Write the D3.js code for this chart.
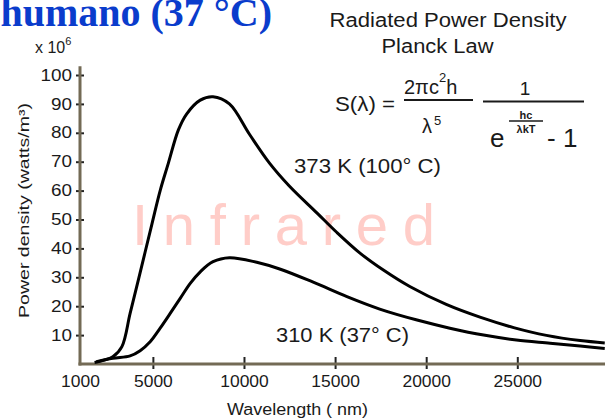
<!DOCTYPE html>
<html>
<head>
<meta charset="utf-8">
<script src="https://cdn.jsdelivr.net/npm/d3@7"></script>
<style>
  html, body { margin: 0; padding: 0; background: #fff; }
  svg { display: block; font-family: "Liberation Sans", Arial, sans-serif; }
</style>
</head>
<body>
<svg id="chart" width="605" height="418"></svg>
<script>
// values (wavelength in nm, power density x 10^6 watts/m^3)
var wave373 = [1800, 2800, 3300, 3750, 4200, 4950, 5400, 5850, 6400, 6850, 7600, 8300, 9200, 10300, 11400, 12500, 14000, 15100, 16400, 17650, 19100, 21100, 22950, 24800, 26600, 28450, 29800];
var power373 = [0.5, 2.5, 6, 17.5, 29, 48.5, 60, 69.5, 81, 86.5, 91.3, 92.5, 90, 79.5, 69.5, 61.5, 52.3, 45.5, 38.2, 32.5, 26.8, 20.6, 16.2, 12.6, 9.9, 8.1, 7.3];

var wave310 = [1900, 2800, 3750, 4300, 4850, 5400, 5950, 6500, 7050, 7600, 8300, 9200, 10700, 12000, 13800, 15650, 17450, 19500, 21300, 23150, 24950, 26800, 28450, 29800];
var power310 = [0.8, 2.0, 2.8, 4.6, 7.7, 12.4, 17.5, 22.7, 27.9, 31.9, 35.4, 36.8, 35.2, 32.8, 28.3, 23.3, 19.0, 15.2, 12.4, 10.0, 8.3, 7.2, 6.2, 5.4];

var xTicks = [1000, 5000, 10000, 15000, 20000, 25000];
var yTicks = [10, 20, 30, 40, 50, 60, 70, 80, 90, 100];

var curveLabels = ["373 K (100° C)", "310 K (37° C)"];

var svg = d3.select("#chart");

var x = d3.scaleLinear().domain([1000, 30000]).range([80, 608.4]);
var y = d3.scaleLinear().domain([0, 100]).range([364, 75]);

// blue heading, at the top edge as on the slide
svg.append("text")
  .attr("x", 272).attr("y", 26)
  .attr("text-anchor", "end")
  .style("font-family", "'Liberation Serif', 'Times New Roman', serif")
  .style("font-weight", "bold")
  .style("font-size", "40px")
  .attr("fill", "#0a3ccc")
  .text("humano (37 °C)");

// watermark
svg.append("text")
  .attr("x", 132).attr("y", 245)
  .attr("textLength", 303).attr("lengthAdjust", "spacing")
  .style("font-size", "58px")
  .attr("fill", "#ffcdc8")
  .text("Infrared");

// titles
svg.append("text")
  .attr("x", 448).attr("y", 27).attr("text-anchor", "middle")
  .attr("textLength", 237).attr("lengthAdjust", "spacingAndGlyphs")
  .style("font-size", "20px").attr("fill", "#1a1a1a")
  .text("Radiated Power Density");
svg.append("text")
  .attr("x", 437.5).attr("y", 53).attr("text-anchor", "middle")
  .attr("textLength", 112).attr("lengthAdjust", "spacingAndGlyphs")
  .style("font-size", "20px").attr("fill", "#1a1a1a")
  .text("Planck Law");

// formula
var f = svg.append("g").attr("fill", "#1a1a1a");
f.append("text").attr("x", 335).attr("y", 111).attr("textLength", 60)
  .attr("lengthAdjust", "spacingAndGlyphs").style("font-size", "20px").text("S(λ) =");
var num = f.append("text").attr("x", 404).attr("y", 94).style("font-size", "20px");
num.append("tspan").text("2πc");
num.append("tspan").attr("dy", -12).style("font-size", "13px").text("2");
num.append("tspan").attr("dy", 12).text("h");
f.append("line").attr("x1", 404).attr("x2", 473).attr("y1", 100).attr("y2", 100)
  .attr("stroke", "#1a1a1a").attr("stroke-width", 2);
var den = f.append("text").attr("x", 422).attr("y", 133).style("font-size", "20px");
den.append("tspan").text("λ");
den.append("tspan").attr("dy", -8).attr("dx", 2).style("font-size", "13px").text("5");
f.append("text").attr("x", 525).attr("y", 95).attr("text-anchor", "middle")
  .style("font-size", "19px").text("1");
f.append("line").attr("x1", 483).attr("x2", 584).attr("y1", 101.5).attr("y2", 101.5)
  .attr("stroke", "#1a1a1a").attr("stroke-width", 2);
f.append("text").attr("x", 490).attr("y", 147).style("font-size", "26px").text("e");
f.append("text").attr("x", 526).attr("y", 119).attr("text-anchor", "middle")
  .style("font-size", "11px").style("font-weight", "bold").text("hc");
f.append("line").attr("x1", 509).attr("x2", 543).attr("y1", 121).attr("y2", 121)
  .attr("stroke", "#1a1a1a").attr("stroke-width", 1.5);
f.append("text").attr("x", 526).attr("y", 133).attr("text-anchor", "middle")
  .style("font-size", "11px").style("font-weight", "bold").text("λkT");
f.append("text").attr("x", 547).attr("y", 147).style("font-size", "26px").text("- 1");

// axes
var yAxis = svg.append("g").attr("transform", "translate(80,0)")
  .call(d3.axisLeft(y).tickValues(yTicks).tickSizeInner(4).tickSizeOuter(0).tickPadding(4));
yAxis.select(".domain").remove();
yAxis.selectAll(".tick line").attr("x1", 4).attr("stroke", "#222").attr("stroke-width", 2);
yAxis.selectAll(".tick text")
  .attr("fill", "#1a1a1a")
  .style("font-size", "16px")
  .style("font-family", "'Liberation Sans', Arial, sans-serif")
  .attr("lengthAdjust", "spacingAndGlyphs")
  .attr("textLength", function(d) { return String(d).length * 10.5; });

var xAxis = svg.append("g").attr("transform", "translate(0,364)")
  .call(d3.axisBottom(x).tickValues(xTicks).tickFormat(d3.format("d"))
    .tickSizeInner(5).tickSizeOuter(0).tickPadding(7));
xAxis.select(".domain").remove();
xAxis.selectAll(".tick line").attr("y1", -7).attr("stroke", "#222").attr("stroke-width", 2)
  .attr("display", function(d) { return d === 1000 ? "none" : null; });
xAxis.selectAll(".tick text")
  .attr("fill", "#1a1a1a")
  .style("font-size", "16px")
  .style("font-family", "'Liberation Sans', Arial, sans-serif")
  .attr("lengthAdjust", "spacingAndGlyphs")
  .attr("textLength", function(d) { return String(d).length * 9.7; });

svg.append("line")
  .attr("x1", 80).attr("x2", 80).attr("y1", y(0) + 1.5).attr("y2", y(103))
  .attr("stroke", "#736a55").attr("stroke-width", 3);
svg.append("line")
  .attr("x1", 78.5).attr("x2", 605).attr("y1", y(0)).attr("y2", y(0))
  .attr("stroke", "#736a55").attr("stroke-width", 3);

// x 10^6
var mult = svg.append("text").attr("x", 35).attr("y", 53).style("font-size", "16px").attr("fill", "#1a1a1a");
mult.append("tspan").text("x 10");
mult.append("tspan").attr("dy", -8).style("font-size", "11px").text("6");

// axis titles
svg.append("text")
  .attr("transform", "translate(29,210.5) rotate(-90)")
  .attr("text-anchor", "middle")
  .attr("textLength", 215).attr("lengthAdjust", "spacingAndGlyphs")
  .style("font-size", "15px").attr("fill", "#1a1a1a")
  .text("Power density (watts/m³)");
svg.append("text")
  .attr("x", 297.5).attr("y", 415).attr("text-anchor", "middle")
  .attr("textLength", 141).attr("lengthAdjust", "spacingAndGlyphs")
  .style("font-size", "16px").attr("fill", "#1a1a1a")
  .text("Wavelength ( nm)");

// curves
var line = d3.line()
  .x(function(d) { return x(d[0]); })
  .y(function(d) { return y(d[1]); })
  .curve(d3.curveCatmullRom.alpha(0.5));

[d3.zip(wave373, power373), d3.zip(wave310, power310)].forEach(function(pts) {
  svg.append("path")
    .datum(pts)
    .attr("d", line)
    .attr("fill", "none")
    .attr("stroke", "#000")
    .attr("stroke-width", 3);
});

// curve labels
svg.append("text").attr("x", 294).attr("y", 173)
  .attr("textLength", 147).attr("lengthAdjust", "spacingAndGlyphs")
  .style("font-size", "21px").attr("fill", "#1a1a1a").text(curveLabels[0]);
svg.append("text").attr("x", 276).attr("y", 342)
  .attr("textLength", 133).attr("lengthAdjust", "spacingAndGlyphs")
  .style("font-size", "21px").attr("fill", "#1a1a1a").text(curveLabels[1]);
</script>
</body>
</html>
